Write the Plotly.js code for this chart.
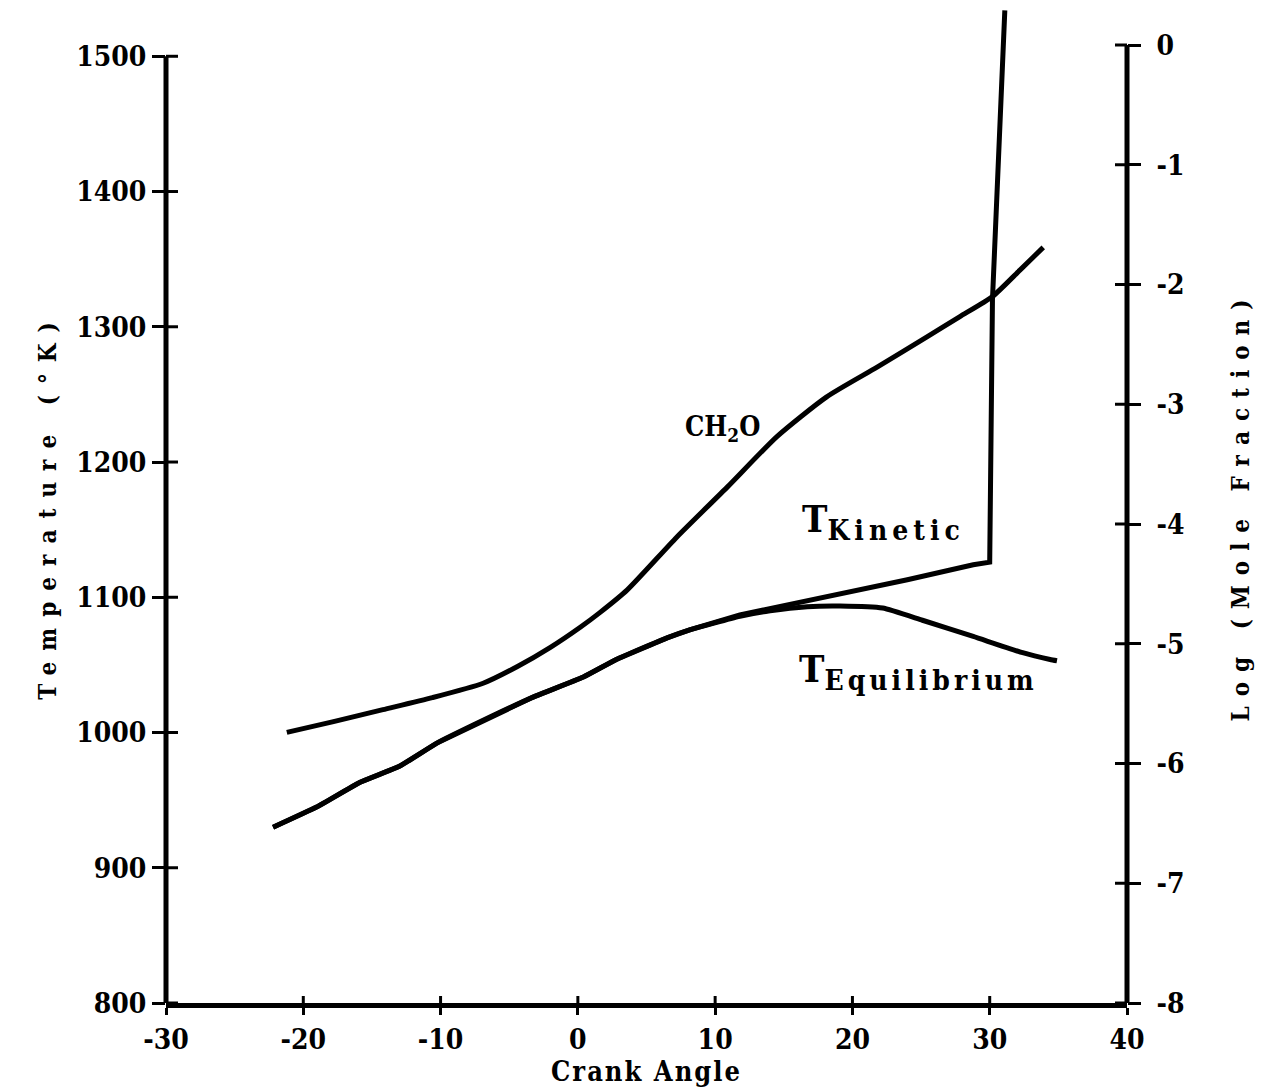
<!DOCTYPE html>
<html>
<head>
<meta charset="utf-8">
<script src="https://cdn.plot.ly/plotly-3.0.1.min.js"></script>
<style>html,body{margin:0;padding:0;background:#fff;}#chart{width:1271px;height:1090px;}</style>
</head>
<body>
<div id="chart"></div>
<script>
// ---- data ----
const crankKinetic = [-22.2, -19.0, -15.9, -13.0, -10.3, -6.9, -3.3, 0.4, 2.8, 6.5, 8.2, 11.8, 15.5, 19.1, 24.0, 28.8, 30.0, 30.2, 31.1];
const tempKinetic  = [930, 945, 963, 975, 992, 1009, 1026, 1041, 1054, 1070, 1076, 1087, 1095, 1102, 1113, 1124, 1126, 1320, 1534];

const crankEquil = [-22.2, -19.0, -15.9, -13.0, -10.3, -6.9, -3.3, 0.4, 2.8, 6.5, 8.2, 11.8, 14.0, 16.7, 19.1, 22.2, 25.1, 28.8, 32.4, 34.4, 34.9];
const tempEquil  = [930, 945, 963, 975, 992, 1009, 1026, 1041, 1054, 1070, 1076, 1086, 1090, 1093, 1093.5, 1092, 1083, 1071, 1059, 1054, 1053];

const crankCH2O = [-21.2, -17.8, -14.2, -10.6, -6.9, -4.4, -2.0, 0.2, 1.6, 3.6, 7.2, 10.9, 14.5, 18.1, 21.8, 25.4, 27.8, 30.2, 32.2, 33.9];
const logCH2O   = [-5.74, -5.65, -5.55, -5.45, -5.33, -5.19, -5.03, -4.86, -4.74, -4.55, -4.11, -3.69, -3.27, -2.94, -2.69, -2.44, -2.27, -2.10, -1.88, -1.69];

const xTickVals = [-30, -20, -10, 0, 10, 20, 30, 40];
const xTickText = ["-30", "-20", "-10", "0", "10", "20", "30", "40"];
const tTickVals = [800, 900, 1000, 1100, 1200, 1300, 1400, 1500];
const tTickText = ["800", "900", "1000", "1100", "1200", "1300", "1400", "1500"];
const logTickVals = [-8, -7, -6, -5, -4, -3, -2, -1, 0];
const logTickText = ["-8", "-7", "-6", "-5", "-4", "-3", "-2", "-1", "0"];

// ---- styling ----
const FONT = '"DejaVu Serif Condensed", "DejaVu Serif", serif';
const ink = '#000';
const W = 1271, H = 1090;
const M = {l: 166, r: 144, t: 8, b: 87};
const plotW = W - M.l - M.r, plotH = H - M.t - M.b;

const traces = [
  {x: crankCH2O, y: logCH2O, yaxis: 'y2', mode: 'lines', name: 'CH2O',
   line: {color: ink, width: 5, shape: 'spline', smoothing: 0.6}},
  {x: crankEquil, y: tempEquil, mode: 'lines', name: 'T Equilibrium',
   line: {color: ink, width: 5, shape: 'spline', smoothing: 0.5}},
  {x: crankKinetic, y: tempKinetic, mode: 'lines', name: 'T Kinetic',
   line: {color: ink, width: 5}}
];

const xRange = [-30, 40];
const tRange = [800, 1535.7];
const logRange = [-8, 0.309];
const tickFont = {family: FONT, size: 28, color: ink, weight: 'bold'};

// inward halves of the crossing tick marks (outward halves are Plotly's own ticks)
const tickLine = {color: ink, width: 3};
const xIn = 7 / plotH, yIn = 12 / plotW;
const innerTicks = [].concat(
  xTickVals.map(v => ({type: 'line', xref: 'x', yref: 'paper', x0: v, x1: v, y0: 0, y1: xIn, line: tickLine})),
  tTickVals.map(v => ({type: 'line', xref: 'paper', yref: 'y', y0: v, y1: v, x0: 0, x1: yIn, line: tickLine})),
  logTickVals.map(v => ({type: 'line', xref: 'paper', yref: 'y2', y0: v, y1: v, x0: 1 - yIn, x1: 1, line: tickLine}))
);

const layout = {
  width: W, height: H,
  margin: M,
  paper_bgcolor: '#fff', plot_bgcolor: '#fff',
  showlegend: false,
  font: {family: FONT, color: ink, weight: 'bold'},
  xaxis: {
    range: xRange, tickvals: xTickVals, ticktext: xTickText,
    showgrid: false, zeroline: false,
    showline: true, linecolor: ink, linewidth: 5,
    ticks: 'outside', ticklen: 7, tickwidth: 3, tickcolor: ink,
    tickfont: tickFont, ticklabelstandoff: 0,
    title: {text: '<span style="letter-spacing:2px">Crank Angle</span>', font: {family: FONT, size: 27, color: ink, weight: 'bold'}, standoff: 8}
  },
  yaxis: {
    range: tRange, tickvals: tTickVals, ticktext: tTickText,
    showgrid: false, zeroline: false, showline: false,
    ticks: 'outside', ticklen: 13, tickwidth: 3, tickcolor: ink,
    tickfont: tickFont, ticklabelstandoff: 0,
    title: {text: '<span style="letter-spacing:11px">Temperature (°K)</span>', font: {family: FONT, size: 24, color: ink, weight: 'bold'}, standoff: 12}
  },
  yaxis2: {
    overlaying: 'y', side: 'right', anchor: 'x', range: logRange,
    tickvals: logTickVals, ticktext: logTickText,
    showgrid: false, zeroline: false, showline: false,
    ticks: 'outside', ticklen: 13, tickwidth: 3, tickcolor: ink,
    tickfont: tickFont, ticklabelstandoff: 10,
    title: {text: '<span style="letter-spacing:10px">Log (Mole Fraction)</span>', font: {family: FONT, size: 24, color: ink, weight: 'bold'}, standoff: 48}
  },
  shapes: [
    {type: 'line', xref: 'paper', yref: 'y', x0: 0, x1: 0, y0: tRange[0], y1: tTickVals[tTickVals.length - 1], line: {color: ink, width: 5}},
    {type: 'line', xref: 'paper', yref: 'y2', x0: 1, x1: 1, y0: logRange[0], y1: logTickVals[logTickVals.length - 1], line: {color: ink, width: 5}}
  ].concat(innerTicks),
  annotations: [
    {x: 10.5, y: 1225, xref: 'x', yref: 'y', showarrow: false, xanchor: 'center', yanchor: 'middle',
     text: 'CH<sub>2</sub>O', font: {family: FONT, size: 27, color: ink, weight: 'bold'}},
    {x: 16.2, y: 1156, xref: 'x', yref: 'y', showarrow: false, xanchor: 'left', yanchor: 'middle',
     text: 'T<sub><span style="font-size:28px;letter-spacing:5px">Kinetic</span></sub>', font: {family: FONT, size: 38, color: ink, weight: 'bold'}},
    {x: 15.95, y: 1045, xref: 'x', yref: 'y', showarrow: false, xanchor: 'left', yanchor: 'middle',
     text: 'T<sub><span style="font-size:28px;letter-spacing:4px">Equilibrium</span></sub>', font: {family: FONT, size: 38, color: ink, weight: 'bold'}}
  ]
};

Plotly.newPlot('chart', traces, layout, {staticPlot: true, displayModeBar: false});
</script>
</body>
</html>
